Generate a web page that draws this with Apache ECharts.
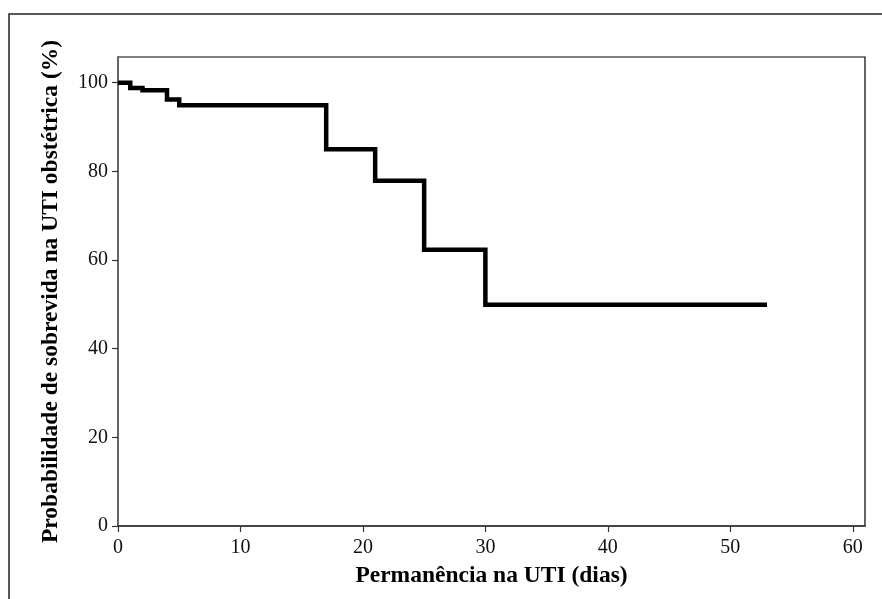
<!DOCTYPE html>
<html>
<head>
<meta charset="utf-8">
<script src="https://cdn.jsdelivr.net/npm/echarts@6/dist/echarts.min.js"></script>
<style>
  html, body { margin: 0; padding: 0; background: #fff; }
  #chart { width: 882px; height: 599px; }
</style>
</head>
<body>
<div id="chart"></div>
<script>
// Kaplan-Meier survival steps (days, % surviving)
const days = [0, 1, 2, 4, 5, 17, 21, 25, 30, 53];
const survival = [100, 98.8, 98.3, 96.2, 94.9, 85.0, 77.9, 62.3, 49.9, 49.9];
const xTicks = [0, 10, 20, 30, 40, 50, 60];
const yTicks = [0, 20, 40, 60, 80, 100];

const fontFamily = '"Liberation Serif", "Times New Roman", serif';

const chart = echarts.init(document.getElementById('chart'), null, { renderer: 'canvas' });

const points = days.map((d, i) => [d, survival[i]]);

chart.setOption({
  backgroundColor: '#fff',
  animation: false,
  graphic: [{
    type: 'rect',
    shape: { x: 9, y: 14, width: 900, height: 620 },
    style: { fill: 'none', stroke: '#222', lineWidth: 1.5 },
    silent: true
  }],
  grid: {
    left: 118, right: 17, top: 57, bottom: 73,
    show: true, borderColor: '#000', borderWidth: 1.2, backgroundColor: 'transparent'
  },
  xAxis: {
    type: 'value',
    min: 0, max: 61,
    name: 'Permanência na UTI (dias)',
    nameLocation: 'middle',
    nameGap: 38,
    nameTextStyle: { fontFamily, fontSize: 23.5, fontWeight: 'bold', color: '#000' },
    axisLine: { show: true, lineStyle: { color: '#333', width: 1.5 } },
    axisTick: { show: true, length: 6, customValues: xTicks, lineStyle: { color: '#333', width: 1.2 } },
    axisLabel: { customValues: xTicks, margin: 12, fontFamily, fontSize: 20, color: '#111' },
    splitLine: { show: false }
  },
  yAxis: {
    type: 'value',
    min: 0, max: 105.8,
    name: 'Probabilidade de sobrevida na UTI obstétrica (%)',
    nameLocation: 'middle',
    nameGap: 55,
    nameTextStyle: { fontFamily, fontSize: 23.5, fontWeight: 'bold', color: '#000' },
    axisLine: { show: true, lineStyle: { color: '#666', width: 1.8 } },
    axisTick: { show: true, length: 6, customValues: yTicks, lineStyle: { color: '#333', width: 1.2 } },
    axisLabel: { customValues: yTicks, margin: 10, fontFamily, fontSize: 20, color: '#111' },
    splitLine: { show: false }
  },
  series: [{
    type: 'line',
    step: 'end',
    data: points,
    showSymbol: false,
    lineStyle: { color: '#000', width: 4.5, join: 'miter', cap: 'butt' }
  }]
});
</script>
</body>
</html>
